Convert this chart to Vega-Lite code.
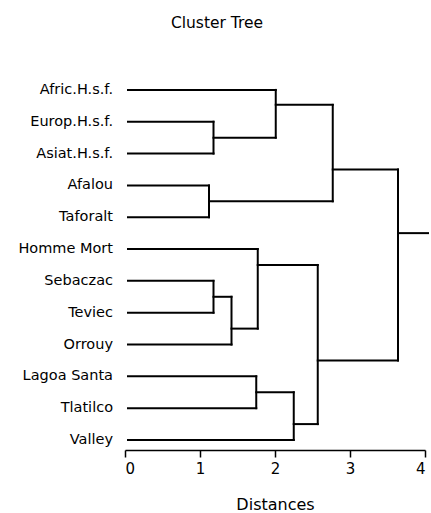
{
  "$schema": "https://vega.github.io/schema/vega-lite/v6.json",
  "autosize": {"type": "none"},
  "padding": {"left": 125, "top": 74, "right": 6, "bottom": 63},
  "width": 300,
  "height": 376,
  "background": "white",
  "config": {"view": {"stroke": null}, "font": "DejaVu Sans"},
  "title": {"text": "Cluster Tree", "fontSize": 15.5, "fontWeight": "normal", "font": "DejaVu Sans", "color": "black", "offset": 43, "dx": -58, "anchor": "middle"},
  "datasets": {
    "leaves": [
      {"name": "Afric.H.s.f.", "y": 0, "x": 0.04},
      {"name": "Europ.H.s.f.", "y": 1, "x": 0.04},
      {"name": "Asiat.H.s.f.", "y": 2, "x": 0.04},
      {"name": "Afalou", "y": 3, "x": 0.04},
      {"name": "Taforalt", "y": 4, "x": 0.04},
      {"name": "Homme Mort", "y": 5, "x": 0.04},
      {"name": "Sebaczac", "y": 6, "x": 0.04},
      {"name": "Teviec", "y": 7, "x": 0.04},
      {"name": "Orrouy", "y": 8, "x": 0.04},
      {"name": "Lagoa Santa", "y": 9, "x": 0.04},
      {"name": "Tlatilco", "y": 10, "x": 0.04},
      {"name": "Valley", "y": 11, "x": 0.04}
    ],
    "segments": [
      {"x": 0.04, "x2": 2.01, "y": 0, "y2": 0},
      {"x": 0.04, "x2": 1.18, "y": 1, "y2": 1},
      {"x": 0.04, "x2": 1.18, "y": 2, "y2": 2},
      {"x": 0.04, "x2": 1.12, "y": 3, "y2": 3},
      {"x": 0.04, "x2": 1.12, "y": 4, "y2": 4},
      {"x": 0.04, "x2": 1.77, "y": 5, "y2": 5},
      {"x": 0.04, "x2": 1.18, "y": 6, "y2": 6},
      {"x": 0.04, "x2": 1.18, "y": 7, "y2": 7},
      {"x": 0.04, "x2": 1.42, "y": 8, "y2": 8},
      {"x": 0.04, "x2": 1.75, "y": 9, "y2": 9},
      {"x": 0.04, "x2": 1.75, "y": 10, "y2": 10},
      {"x": 0.04, "x2": 2.25, "y": 11, "y2": 11},
      {"x": 1.18, "x2": 2.01, "y": 1.5, "y2": 1.5},
      {"x": 2.01, "x2": 2.77, "y": 0.47, "y2": 0.47},
      {"x": 1.12, "x2": 2.77, "y": 3.5, "y2": 3.5},
      {"x": 2.77, "x2": 3.64, "y": 2.5, "y2": 2.5},
      {"x": 1.18, "x2": 1.42, "y": 6.5, "y2": 6.5},
      {"x": 1.42, "x2": 1.77, "y": 7.5, "y2": 7.5},
      {"x": 1.77, "x2": 2.57, "y": 5.5, "y2": 5.5},
      {"x": 1.75, "x2": 2.25, "y": 9.5, "y2": 9.5},
      {"x": 2.25, "x2": 2.57, "y": 10.5, "y2": 10.5},
      {"x": 2.57, "x2": 3.64, "y": 8.5, "y2": 8.5},
      {"x": 3.64, "x2": 4.04, "y": 4.5, "y2": 4.5},
      {"x": 1.18, "x2": 1.18, "y": 1, "y2": 2},
      {"x": 2.01, "x2": 2.01, "y": 0, "y2": 1.5},
      {"x": 1.12, "x2": 1.12, "y": 3, "y2": 4},
      {"x": 2.77, "x2": 2.77, "y": 0.47, "y2": 3.5},
      {"x": 1.18, "x2": 1.18, "y": 6, "y2": 7},
      {"x": 1.42, "x2": 1.42, "y": 6.5, "y2": 8},
      {"x": 1.77, "x2": 1.77, "y": 5, "y2": 7.5},
      {"x": 1.75, "x2": 1.75, "y": 9, "y2": 10},
      {"x": 2.25, "x2": 2.25, "y": 9.5, "y2": 11},
      {"x": 2.57, "x2": 2.57, "y": 5.5, "y2": 10.5},
      {"x": 3.64, "x2": 3.64, "y": 2.5, "y2": 8.5}
    ]
  },
  "layer": [
    {
      "data": {"name": "segments"},
      "mark": {"type": "rule", "color": "black", "strokeWidth": 2, "strokeCap": "square", "clip": false},
      "encoding": {
        "x": {"field": "x", "type": "quantitative", "scale": {"domain": [0, 4], "nice": false},
          "axis": {"title": "Distances", "values": [0, 1, 2, 3, 4], "format": "d", "grid": false,
            "domainColor": "black", "domainWidth": 1.5, "tickColor": "black", "tickWidth": 1.5, "tickSize": 7,
            "labelColor": "black", "labelFontSize": 15, "labelFont": "DejaVu Sans", "labelPadding": 4,
            "titleColor": "black", "titleFontSize": 16, "titleFontWeight": "normal", "titleFont": "DejaVu Sans", "titlePadding": 20, "offset": 0}},
        "x2": {"field": "x2"},
        "y": {"field": "y", "type": "quantitative", "scale": {"domain": [-0.5, 11.314], "nice": false, "zero": false, "reverse": true}, "axis": null},
        "y2": {"field": "y2"}
      }
    },
    {
      "data": {"name": "leaves"},
      "mark": {"type": "text", "align": "right", "baseline": "middle", "dx": -15, "fontSize": 14.5, "font": "DejaVu Sans", "color": "black"},
      "encoding": {
        "x": {"field": "x", "type": "quantitative"},
        "y": {"field": "y", "type": "quantitative"},
        "text": {"field": "name"}
      }
    }
  ]
}
